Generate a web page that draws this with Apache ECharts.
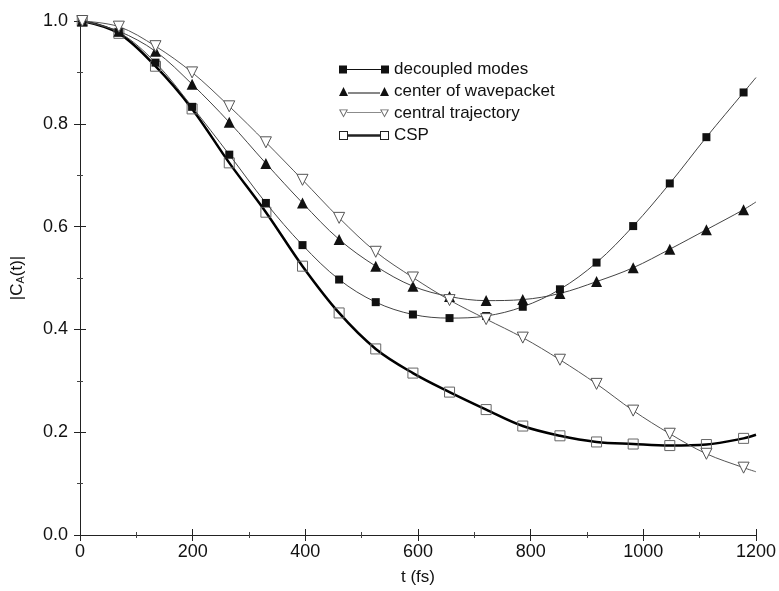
<!DOCTYPE html>
<html>
<head>
<meta charset="utf-8">
<script src="https://cdn.jsdelivr.net/npm/echarts@6/dist/echarts.min.js"></script>
<style>
  html, body { margin: 0; padding: 0; background: #fff; }
  #chart { width: 779px; height: 591px; }
</style>
</head>
<body>
<div id="chart"></div>
<script>
// sample times (fs) where markers are drawn, plus curve end at 1200
var times = [4, 69, 134, 199, 265, 330, 395, 460, 525, 591, 656, 721, 786, 852, 917, 982, 1047, 1112, 1178, 1200];

var decoupled = [1.0, 0.978, 0.919, 0.833, 0.740, 0.646, 0.564, 0.497, 0.453, 0.429, 0.422, 0.426, 0.444, 0.478, 0.530, 0.601, 0.684, 0.774, 0.861, 0.890];
var wavepacket = [1.0, 0.980, 0.941, 0.877, 0.803, 0.723, 0.646, 0.575, 0.523, 0.484, 0.464, 0.456, 0.458, 0.470, 0.493, 0.520, 0.556, 0.594, 0.633, 0.648];
var trajectory = [1.0, 0.989, 0.951, 0.900, 0.834, 0.764, 0.691, 0.617, 0.551, 0.501, 0.457, 0.420, 0.384, 0.341, 0.294, 0.242, 0.197, 0.158, 0.131, 0.123];
var csp = [1.0, 0.976, 0.912, 0.829, 0.724, 0.628, 0.523, 0.432, 0.362, 0.315, 0.278, 0.244, 0.212, 0.193, 0.181, 0.177, 0.174, 0.176, 0.188, 0.195];

var names = ['decoupled modes', 'center of wavepacket', 'central trajectory', 'CSP'];

var font = 'Liberation Sans, Arial, Helvetica, sans-serif';

function pairs(ys) {
    var out = [];
    for (var i = 0; i < ys.length; i++) {
        var item = { value: [times[i], ys[i]] };
        // last point only extends the curve to the frame
        if (i === ys.length - 1) item.symbol = 'none';
        out.push(item);
    }
    return out;
}

// legend icons: marker - line - marker, drawn at 50x10
var icons = {
    sqFilled: 'path://M0,1h8v8h-8z M8,4.6h34v0.8h-34z M42,1h8v8h-8z',
    triFilled: 'path://M0,9L4.5,0L9,9z M9,5.6h32v0.8h-32z M41,9L45.5,0L50,9z',
    triOpen: 'path://M0,1L9,1L4.5,9z M1.6,1.8L4.5,7.3L7.4,1.8z M8,3.6h34v0.6h-34z M41,1L50,1L45.5,9z M42.6,1.8L45.5,7.3L48.4,1.8z',
    sqOpen: 'path://M0,0.5h9v9h-9z M1,1.5v7h7v-7z M9,3.8h32v2.4h-32z M41,0.5h9v9h-9z M42,1.5v7h7v-7z'
};

var chart = echarts.init(document.getElementById('chart'));

var tickAxis = {
    axisLine: { show: true, lineStyle: { color: '#222', width: 1 } },
    axisTick: { show: true, inside: true, length: 6, lineStyle: { color: '#222' } },
    minorTick: { show: true, splitNumber: 2, length: 3, lineStyle: { color: '#444' } },
    splitLine: { show: false }
};

var option = {
    backgroundColor: '#fff',
    animation: false,
    grid: { left: 80, right: 22, top: 21, bottom: 54 },
    legend: {
        orient: 'vertical',
        left: 334,
        top: 56,
        itemWidth: 50,
        itemHeight: 10,
        itemGap: 5,
        textStyle: { fontFamily: font, fontSize: 17, color: '#111' },
        data: [
            { name: names[0], icon: icons.sqFilled, itemStyle: { color: '#111', borderWidth: 0 } },
            { name: names[1], icon: icons.triFilled, itemStyle: { color: '#111', borderWidth: 0 } },
            { name: names[2], icon: icons.triOpen, itemStyle: { color: '#666', borderWidth: 0 } },
            { name: names[3], icon: icons.sqOpen, itemStyle: { color: '#222', borderWidth: 0 } }
        ]
    },
    xAxis: [
        Object.assign({
            type: 'value', min: 0, max: 1200, interval: 200,
            name: 't (fs)', nameLocation: 'middle', nameGap: 34,
            nameTextStyle: { fontFamily: font, fontSize: 17, color: '#111' },
            axisLabel: {
                fontFamily: font, fontSize: 18, color: '#111', margin: 8,
                formatter: function (v) { return String(v); }
            }
        }, tickAxis),
        Object.assign({
            type: 'value', min: 0, max: 1200, interval: 200, position: 'top',
            axisLabel: { show: false }
        }, tickAxis)
    ],
    yAxis: [
        Object.assign({
            type: 'value', min: 0, max: 1, interval: 0.2,
            name: '|C{sub|A}(t)|', nameLocation: 'middle', nameGap: 54, nameRotate: 90,
            nameTextStyle: {
                fontFamily: font, fontSize: 17, color: '#111',
                rich: { sub: { fontFamily: font, fontSize: 11, verticalAlign: 'bottom', padding: [6, 0, 0, 0] } }
            },
            axisLabel: {
                fontFamily: font, fontSize: 18, color: '#111', margin: 12,
                formatter: function (v) { return v.toFixed(1); }
            }
        }, tickAxis),
        Object.assign({
            type: 'value', min: 0, max: 1, interval: 0.2, position: 'right',
            axisLabel: { show: false }
        }, tickAxis)
    ],
    series: [
        {
            name: names[0], type: 'line', smooth: 0.35,
            data: pairs(decoupled),
            symbol: 'rect', symbolSize: 8,
            itemStyle: { color: '#111' },
            lineStyle: { color: '#444', width: 1 }
        },
        {
            name: names[1], type: 'line', smooth: 0.35,
            data: pairs(wavepacket),
            symbol: 'triangle', symbolSize: 11,
            itemStyle: { color: '#111' },
            lineStyle: { color: '#444', width: 1 }
        },
        {
            name: names[2], type: 'line', smooth: 0.35,
            data: pairs(trajectory),
            symbol: 'triangle', symbolSize: 11, symbolRotate: 180,
            itemStyle: { color: '#fff', borderColor: '#555', borderWidth: 1 },
            lineStyle: { color: '#555', width: 1 }
        },
        {
            name: names[3], type: 'line', smooth: 0.35,
            data: pairs(csp),
            symbol: 'rect', symbolSize: 10,
            itemStyle: { color: 'rgba(255,255,255,0)', borderColor: '#666', borderWidth: 1 },
            lineStyle: { color: '#000', width: 2.5 },
            z: 1
        }
    ]
};

chart.setOption(option);
</script>
</body>
</html>
